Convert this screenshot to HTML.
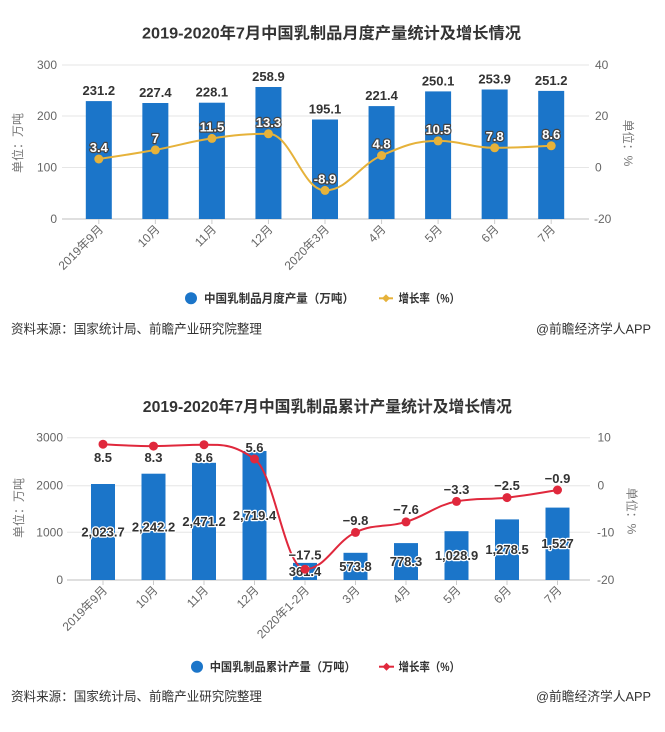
<!DOCTYPE html>
<html><head><meta charset="utf-8"><style>
html,body{margin:0;padding:0;background:#fff;}
svg{display:block;}
text{font-family:"Liberation Sans","Noto Sans CJK SC",sans-serif;}
.t{font-size:16px;font-weight:bold;fill:#333;}
.ax{font-size:12px;fill:#666;}
.xl{font-size:12px;fill:#666;}
.bv{font-size:13px;font-weight:bold;fill:#333;}
.lv1{font-size:13px;font-weight:bold;fill:#fff;stroke:#444;stroke-width:2.4px;paint-order:stroke;stroke-linejoin:round;}
.bv2{font-size:13px;font-weight:bold;fill:#333;stroke:#fff;stroke-width:2.4px;paint-order:stroke;stroke-linejoin:round;}
.lg{font-size:12px;font-weight:bold;fill:#333;}
.src{font-size:13px;fill:#333;}
.yt{font-size:12px;fill:#777;}
</style></head><body>
<svg width="665" height="732" viewBox="0 0 665 732" xmlns="http://www.w3.org/2000/svg">
<rect width="665" height="732" fill="#fff"/>

<!-- ============ CHART 1 ============ -->
<text class="t" x="142" y="38.5" textLength="379" lengthAdjust="spacingAndGlyphs">2019-2020年7月中国乳制品月度产量统计及增长情况</text>

<!-- gridlines -->
<g stroke="#e6e6e6" stroke-width="1">
<line x1="62" y1="65" x2="589" y2="65"/>
<line x1="62" y1="116" x2="589" y2="116"/>
<line x1="62" y1="167.5" x2="589" y2="167.5"/>
</g>
<line x1="62" y1="219" x2="589" y2="219" stroke="#ccc" stroke-width="1.2"/>

<!-- left axis labels -->
<g class="ax" text-anchor="end">
<text x="57" y="69">300</text>
<text x="57" y="120">200</text>
<text x="57" y="171.5">100</text>
<text x="57" y="223">0</text>
</g>
<g class="ax">
<text x="595" y="69">40</text>
<text x="595" y="120">20</text>
<text x="595" y="171.5">0</text>
<text x="594" y="223">-20</text>
</g>
<text class="yt" transform="translate(22,143) rotate(-90)" text-anchor="middle">单位：万吨</text>
<text class="yt" transform="translate(624,143) rotate(90)" text-anchor="middle">单位：%</text>

<!-- bars -->
<g fill="#1b75c9">
<rect x="85.8" y="101.1" width="26" height="117.9"/>
<rect x="142.35" y="103.0" width="26" height="116.0"/>
<rect x="198.9" y="102.7" width="26" height="116.3"/>
<rect x="255.45" y="87.0" width="26" height="132.0"/>
<rect x="312.0" y="119.5" width="26" height="99.5"/>
<rect x="368.55" y="106.1" width="26" height="112.9"/>
<rect x="425.1" y="91.4" width="26" height="127.6"/>
<rect x="481.65" y="89.5" width="26" height="129.5"/>
<rect x="538.2" y="90.9" width="26" height="128.1"/>
</g>

<!-- ticks -->
<g stroke="#ccc" stroke-width="1">
<line x1="98.8" y1="219" x2="98.8" y2="224"/>
<line x1="155.35" y1="219" x2="155.35" y2="224"/>
<line x1="211.9" y1="219" x2="211.9" y2="224"/>
<line x1="268.45" y1="219" x2="268.45" y2="224"/>
<line x1="325" y1="219" x2="325" y2="224"/>
<line x1="381.55" y1="219" x2="381.55" y2="224"/>
<line x1="438.1" y1="219" x2="438.1" y2="224"/>
<line x1="494.65" y1="219" x2="494.65" y2="224"/>
<line x1="551.2" y1="219" x2="551.2" y2="224"/>
</g>

<!-- bar values -->
<g class="bv" text-anchor="middle">
<text x="98.8" y="95">231.2</text>
<text x="155.35" y="97">227.4</text>
<text x="211.9" y="96.5">228.1</text>
<text x="268.45" y="81">258.9</text>
<text x="325" y="113.5">195.1</text>
<text x="381.55" y="100">221.4</text>
<text x="438.1" y="85.5">250.1</text>
<text x="494.65" y="83.5">253.9</text>
<text x="551.2" y="85">251.2</text>
</g>

<!-- line -->
<path d="M 98.8 159.0 C 98.8 159.0, 132.73 154.02, 155.35 149.9 C 177.97 145.78, 189.28 141.62, 211.9 138.4 C 234.52 135.18, 245.83 133.8, 268.45 133.8 C 291.07 133.8, 302.38 190.4, 325.0 190.4 C 347.62 190.4, 358.93 165.4, 381.55 155.5 C 404.17 145.6, 415.48 140.9, 438.1 140.9 C 460.72 140.9, 472.03 147.8, 494.65 147.8 C 517.27 147.8, 551.2 145.8, 551.2 145.8" fill="none" stroke="#e6b23a" stroke-width="2"/>
<g fill="#e6b23a">
<circle cx="98.8" cy="159.0" r="4.5"/>
<circle cx="155.35" cy="149.9" r="4.5"/>
<circle cx="211.9" cy="138.4" r="4.5"/>
<circle cx="268.45" cy="133.8" r="4.5"/>
<circle cx="325" cy="190.4" r="4.5"/>
<circle cx="381.55" cy="155.5" r="4.5"/>
<circle cx="438.1" cy="140.9" r="4.5"/>
<circle cx="494.65" cy="147.8" r="4.5"/>
<circle cx="551.2" cy="145.8" r="4.5"/>
</g>
<g class="lv1" text-anchor="middle">
<text x="98.8" y="152">3.4</text>
<text x="155.35" y="143">7</text>
<text x="211.9" y="131.5">11.5</text>
<text x="268.45" y="127">13.3</text>
<text x="325" y="183.5">-8.9</text>
<text x="381.55" y="148.5">4.8</text>
<text x="438.1" y="134">10.5</text>
<text x="494.65" y="141">7.8</text>
<text x="551.2" y="139">8.6</text>
</g>

<!-- x labels -->
<g class="xl" text-anchor="end">
<text transform="translate(104,230) rotate(-45)">2019年9月</text>
<text transform="translate(160.5,230) rotate(-45)">10月</text>
<text transform="translate(217,230) rotate(-45)">11月</text>
<text transform="translate(273.5,230) rotate(-45)">12月</text>
<text transform="translate(330,230) rotate(-45)">2020年3月</text>
<text transform="translate(386.5,230) rotate(-45)">4月</text>
<text transform="translate(443,230) rotate(-45)">5月</text>
<text transform="translate(499.5,230) rotate(-45)">6月</text>
<text transform="translate(556,230) rotate(-45)">7月</text>
</g>

<!-- legend -->
<circle cx="191" cy="298.3" r="6" fill="#1b75c9"/>
<text class="lg" x="204" y="302.5" textLength="150" lengthAdjust="spacingAndGlyphs">中国乳制品月度产量（万吨）</text>
<line x1="379" y1="298.3" x2="393" y2="298.3" stroke="#e6b23a" stroke-width="2"/>
<path d="M386 294.3 L390 298.3 L386 302.3 L382 298.3 Z" fill="#e6b23a"/>
<text class="lg" x="398.5" y="302.5" textLength="61.5" lengthAdjust="spacingAndGlyphs">增长率（%）</text>

<!-- source -->
<text class="src" x="11" y="333.5" textLength="251" lengthAdjust="spacingAndGlyphs">资料来源：国家统计局、前瞻产业研究院整理</text>
<text class="src" x="651" y="333.5" text-anchor="end" textLength="115" lengthAdjust="spacingAndGlyphs">@前瞻经济学人APP</text>

<!-- ============ CHART 2 ============ -->
<text class="t" x="142.8" y="412" textLength="369" lengthAdjust="spacingAndGlyphs">2019-2020年7月中国乳制品累计产量统计及增长情况</text>

<g stroke="#e6e6e6" stroke-width="1">
<line x1="67" y1="437.7" x2="590" y2="437.7"/>
<line x1="67" y1="485.7" x2="590" y2="485.7"/>
<line x1="67" y1="532.3" x2="590" y2="532.3"/>
</g>
<line x1="67" y1="580" x2="590" y2="580" stroke="#ccc" stroke-width="1.2"/>

<g class="ax" text-anchor="end">
<text x="63" y="441.7">3000</text>
<text x="63" y="489.7">2000</text>
<text x="63" y="536.3">1000</text>
<text x="63" y="584">0</text>
</g>
<g class="ax">
<text x="597.5" y="441.7">10</text>
<text x="597.5" y="489.7">0</text>
<text x="597" y="536.3">-10</text>
<text x="597" y="584">-20</text>
</g>
<text class="yt" transform="translate(23,508) rotate(-90)" text-anchor="middle">单位：万吨</text>
<text class="yt" transform="translate(627.5,511) rotate(90)" text-anchor="middle">单位：%</text>

<g fill="#1b75c9">
<rect x="91" y="484.0" width="24" height="96.0"/>
<rect x="141.5" y="473.7" width="24" height="106.3"/>
<rect x="192" y="462.8" width="24" height="117.2"/>
<rect x="242.5" y="451.0" width="24" height="129.0"/>
<rect x="293" y="562.9" width="24" height="17.1"/>
<rect x="343.5" y="552.8" width="24" height="27.2"/>
<rect x="394" y="543.1" width="24" height="36.9"/>
<rect x="444.5" y="531.2" width="24" height="48.8"/>
<rect x="495" y="519.4" width="24" height="60.6"/>
<rect x="545.5" y="507.6" width="24" height="72.4"/>
</g>

<g stroke="#ccc" stroke-width="1">
<line x1="103" y1="580" x2="103" y2="585"/>
<line x1="153.5" y1="580" x2="153.5" y2="585"/>
<line x1="204" y1="580" x2="204" y2="585"/>
<line x1="254.5" y1="580" x2="254.5" y2="585"/>
<line x1="305" y1="580" x2="305" y2="585"/>
<line x1="355.5" y1="580" x2="355.5" y2="585"/>
<line x1="406" y1="580" x2="406" y2="585"/>
<line x1="456.5" y1="580" x2="456.5" y2="585"/>
<line x1="507" y1="580" x2="507" y2="585"/>
<line x1="557.5" y1="580" x2="557.5" y2="585"/>
</g>

<!-- line -->
<path d="M 103 444.2 C 103 444.2, 133.3 446.1, 153.5 446.1 C 173.7 446.1, 183.8 444.7, 204 444.7 C 224.2 444.7, 234.3 444.7, 254.5 459.0 C 274.7 473.3, 284.8 569.2, 305 569.2 C 325.2 569.2, 335.3 541.86, 355.5 532.4 C 375.7 522.94, 385.8 528.1, 406 521.9 C 426.2 515.7, 436.3 505.2, 456.5 501.4 C 476.7 497.6, 486.8 499.88, 507 497.6 C 527.2 495.32, 557.5 490, 557.5 490" fill="none" stroke="#e0283c" stroke-width="2"/>

<!-- bar values (centered) -->
<g class="bv2" text-anchor="middle">
<text x="103" y="536.5">2,023.7</text>
<text x="153.5" y="531.5">2,242.2</text>
<text x="204" y="526">2,471.2</text>
<text x="254.5" y="520">2,719.4</text>
<text x="305" y="576">361.4</text>
<text x="355.5" y="571">573.8</text>
<text x="406" y="566">778.3</text>
<text x="456.5" y="560">1,028.9</text>
<text x="507" y="554">1,278.5</text>
<text x="557.5" y="548">1,527</text>
</g>

<g fill="#e0283c">
<circle cx="103" cy="444.2" r="4.5"/>
<circle cx="153.5" cy="446.1" r="4.5"/>
<circle cx="204" cy="444.7" r="4.5"/>
<circle cx="254.5" cy="459.0" r="4.5"/>
<circle cx="305" cy="569.2" r="4.5"/>
<circle cx="355.5" cy="532.4" r="4.5"/>
<circle cx="406" cy="521.9" r="4.5"/>
<circle cx="456.5" cy="501.4" r="4.5"/>
<circle cx="507" cy="497.6" r="4.5"/>
<circle cx="557.5" cy="490.0" r="4.5"/>
</g>

<g class="bv2" text-anchor="middle">
<text x="103" y="462">8.5</text>
<text x="153.5" y="462">8.3</text>
<text x="204" y="462">8.6</text>
<text x="254.5" y="452">5.6</text>
<text x="305" y="559.5">−17.5</text>
<text x="355.5" y="525">−9.8</text>
<text x="406" y="514">−7.6</text>
<text x="456.5" y="494">−3.3</text>
<text x="507" y="490">−2.5</text>
<text x="557.5" y="483">−0.9</text>
</g>

<g class="xl" text-anchor="end">
<text transform="translate(108,591) rotate(-45)">2019年9月</text>
<text transform="translate(158.5,591) rotate(-45)">10月</text>
<text transform="translate(209,591) rotate(-45)">11月</text>
<text transform="translate(259.5,591) rotate(-45)">12月</text>
<text transform="translate(310,591) rotate(-45)">2020年1-2月</text>
<text transform="translate(360.5,591) rotate(-45)">3月</text>
<text transform="translate(411,591) rotate(-45)">4月</text>
<text transform="translate(461.5,591) rotate(-45)">5月</text>
<text transform="translate(512,591) rotate(-45)">6月</text>
<text transform="translate(562.5,591) rotate(-45)">7月</text>
</g>

<circle cx="197" cy="666.7" r="6" fill="#1b75c9"/>
<text class="lg" x="209.7" y="671" textLength="146" lengthAdjust="spacingAndGlyphs">中国乳制品累计产量（万吨）</text>
<line x1="379" y1="666.7" x2="394" y2="666.7" stroke="#e0283c" stroke-width="2"/>
<path d="M386.5 662.7 L390.5 666.7 L386.5 670.7 L382.5 666.7 Z" fill="#e0283c"/>
<text class="lg" x="398.5" y="671" textLength="61.5" lengthAdjust="spacingAndGlyphs">增长率（%）</text>

<text class="src" x="11" y="701" textLength="251" lengthAdjust="spacingAndGlyphs">资料来源：国家统计局、前瞻产业研究院整理</text>
<text class="src" x="651" y="701" text-anchor="end" textLength="115" lengthAdjust="spacingAndGlyphs">@前瞻经济学人APP</text>
</svg>
</body></html>
